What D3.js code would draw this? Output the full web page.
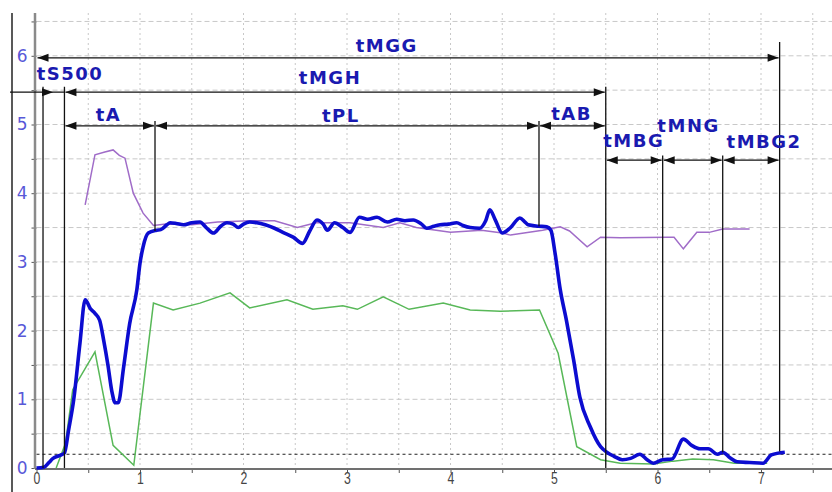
<!DOCTYPE html>
<html>
<head>
<meta charset="utf-8">
<script src="https://cdn.jsdelivr.net/npm/d3@7"></script>
<style>
  body { margin: 0; background: #fff; }
  svg { display: block; }
</style>
</head>
<body>
<script>
// series: time (x) / value (y) pairs
var blueX = [0, 0.07, 0.12, 0.16, 0.22, 0.27, 0.31, 0.36, 0.42, 0.47, 0.52, 0.565, 0.61, 0.65, 0.69, 0.73, 0.76, 0.79, 0.84, 0.9, 0.97, 1.0, 1.03, 1.08, 1.16, 1.2, 1.26, 1.29, 1.35, 1.42, 1.5, 1.58, 1.64, 1.71, 1.78, 1.84, 1.9, 1.95, 2.0, 2.06, 2.13, 2.21, 2.3, 2.38, 2.48, 2.57, 2.64, 2.71, 2.77, 2.81, 2.88, 2.96, 3.03, 3.12, 3.2, 3.29, 3.39, 3.48, 3.56, 3.64, 3.72, 3.77, 3.84, 3.9, 3.98, 4.06, 4.12, 4.19, 4.28, 4.34, 4.38, 4.43, 4.5, 4.58, 4.67, 4.72, 4.75, 4.85, 4.93, 4.97, 5.01, 5.06, 5.12, 5.19, 5.25, 5.35, 5.45, 5.51, 5.58, 5.66, 5.74, 5.83, 5.9, 5.96, 6.05, 6.14, 6.25, 6.33, 6.41, 6.49, 6.58, 6.63, 6.7, 6.77, 6.89, 7.02, 7.1, 7.23];
var blueY = [0, 0.01, 0.08, 0.14, 0.18, 0.22, 0.55, 1.0, 1.82, 2.45, 2.32, 2.25, 2.15, 1.85, 1.5, 1.1, 0.95, 0.95, 1.45, 2.1, 2.6, 2.98, 3.22, 3.42, 3.46, 3.47, 3.54, 3.57, 3.56, 3.54, 3.57, 3.58, 3.5, 3.42, 3.52, 3.57, 3.55, 3.5, 3.55, 3.58, 3.57, 3.54, 3.49, 3.43, 3.36, 3.27, 3.45, 3.61, 3.55, 3.46, 3.57, 3.5, 3.43, 3.65, 3.62, 3.65, 3.58, 3.62, 3.6, 3.61, 3.55, 3.49, 3.52, 3.54, 3.55, 3.57, 3.53, 3.5, 3.49, 3.6, 3.76, 3.62, 3.42, 3.5, 3.64, 3.58, 3.54, 3.52, 3.51, 3.46, 3.13, 2.6, 2.15, 1.57, 1.03, 0.6, 0.31, 0.23, 0.17, 0.12, 0.14, 0.2, 0.12, 0.07, 0.12, 0.13, 0.42, 0.33, 0.28, 0.28, 0.2, 0.23, 0.15, 0.09, 0.08, 0.07, 0.19, 0.23];

var purpleX = [0.47, 0.565, 0.66, 0.74, 0.8, 0.855, 0.935, 1.03, 1.13, 1.25, 1.5, 1.75, 2.06, 2.3, 2.52, 2.7, 3.03, 3.35, 3.51, 3.67, 4.0, 4.3, 4.5, 4.58, 4.89, 5.06, 5.15, 5.32, 5.45, 5.64, 6.1, 6.16, 6.25, 6.38, 6.5, 6.63, 6.89];
var purpleY = [3.83, 4.56, 4.6, 4.63, 4.55, 4.51, 4.0, 3.71, 3.53, 3.55, 3.54, 3.58, 3.6, 3.6, 3.5, 3.57, 3.57, 3.5, 3.57, 3.5, 3.43, 3.46, 3.42, 3.39, 3.46, 3.51, 3.45, 3.22, 3.36, 3.35, 3.36, 3.36, 3.19, 3.43, 3.43, 3.48, 3.48];

var greenX = [0.19, 0.28, 0.35, 0.565, 0.74, 0.94, 1.13, 1.32, 1.58, 1.87, 2.06, 2.42, 2.67, 2.96, 3.1, 3.35, 3.6, 3.93, 4.19, 4.48, 4.86, 5.04, 5.22, 5.45, 5.64, 5.96, 6.15, 6.34, 6.54, 6.74, 7.06];
var greenY = [0.0, 0.36, 1.14, 1.69, 0.33, 0.04, 2.4, 2.3, 2.4, 2.55, 2.33, 2.45, 2.31, 2.36, 2.31, 2.49, 2.31, 2.4, 2.3, 2.28, 2.3, 1.67, 0.31, 0.12, 0.07, 0.06, 0.1, 0.13, 0.12, 0.07, 0.07];

var threshold = 0.2;

// timing intervals
var intervalNames = ["tMGG", "tS500", "tMGH", "tA", "tPL", "tAB", "tMBG", "tMNG", "tMBG2"];
var intervalStart = [0, 0.063, 0.27, 0.27, 1.145, 4.855, 5.5, 6.05, 6.63];
var intervalEnd   = [7.18, 0.27, 5.5, 1.145, 4.855, 5.5, 6.05, 6.63, 7.18];

// marker lines: x position and value they drop to
var markerX    = [0.063, 0.27, 1.145, 4.855, 5.5, 6.05, 6.63, 7.18];
var markerDrop = [0, 0, 3.45, 3.52, 0, 0.15, 0.23, 0.24];

var xTicks = [0, 1, 2, 3, 4, 5, 6, 7];
var yTicks = [0, 1, 2, 3, 4, 5, 6];

var width = 832, height = 492;

var svg = d3.select("body").append("svg")
    .attr("width", width)
    .attr("height", height);

var x = d3.scaleLinear().domain([0, 8]).range([36.5, 36.5 + 8 * 103.5]);
var y = d3.scaleLinear().domain([0, 6]).range([468, 468 - 6 * 68.7]);

var plotTop = 13;
var halfX = d3.range(0.5, 8, 0.5);
var halfY = d3.range(0.5, 6.6, 0.5);

// layout of each interval: arrow row, label position
var arrowRow = [5.97, 5.47, 5.47, 4.98, 4.98, 4.98, 4.48, 4.48, 4.48];
var labelAt = [[3.384, 6.06], [0.324, 5.65], [2.836, 5.59], [0.696, 5.05], [2.94, 5.04],
               [5.17, 5.065], [5.77, 4.67], [6.3, 4.89], [7.03, 4.66]];
var markerTop = [5.55, 5.55, 5.05, 5.05, 5.55, 4.55, 4.55, 6.2];

// grid
svg.append("g").selectAll("line")
    .data(halfY)
    .enter().append("line")
    .attr("x1", x(0)).attr("x2", width)
    .attr("y1", function (d) { return y(d); })
    .attr("y2", function (d) { return y(d); })
    .attr("stroke", "#c8c8c8")
    .attr("stroke-dasharray", "5,3");

svg.append("g").selectAll("line")
    .data(halfX)
    .enter().append("line")
    .attr("x1", function (d) { return x(d); })
    .attr("x2", function (d) { return x(d); })
    .attr("y1", plotTop).attr("y2", y(0))
    .attr("stroke", "#c8c8c8")
    .attr("stroke-dasharray", "2,3");

// threshold
svg.append("line")
    .attr("x1", x(0)).attr("x2", width)
    .attr("y1", y(threshold)).attr("y2", y(threshold))
    .attr("stroke", "#222")
    .attr("stroke-dasharray", "3,3");

// axes
var yAxis = d3.axisLeft(y)
    .tickValues(d3.range(0, 6.6, 0.5))
    .tickSize(5)
    .tickPadding(4)
    .tickFormat(function (d) { return yTicks.indexOf(d) >= 0 ? d : ""; });

var gy = svg.append("g")
    .attr("transform", "translate(" + x(0) + ",0)")
    .call(yAxis);
gy.select(".domain").remove();
gy.selectAll(".tick line").attr("stroke", "#555");
gy.selectAll("text")
    .attr("fill", "#5858d8")
    .style("font-family", "'DejaVu Sans', sans-serif")
    .style("font-size", "17px");

var xAxis = d3.axisBottom(x)
    .tickValues(halfX.concat([0]))
    .tickSize(4)
    .tickFormat(function (d) { return xTicks.indexOf(d) >= 0 ? d : ""; });

var gx = svg.append("g")
    .attr("transform", "translate(0," + (y(0) + 1) + ")")
    .call(xAxis);
gx.select(".domain").remove();
gx.selectAll(".tick line").attr("stroke", "#555");
gx.selectAll("text")
    .attr("y", 3)
    .attr("fill", "#444")
    .attr("transform", "scale(0.72,1)")
    .style("font-family", "'Liberation Sans', sans-serif")
    .style("font-size", "17px");

svg.append("line")
    .attr("x1", x(0) - 1.5).attr("x2", x(0) - 1.5)
    .attr("y1", plotTop).attr("y2", y(0) + 1)
    .attr("stroke", "#8a8a8a").attr("stroke-width", 2.5);
svg.append("line")
    .attr("x1", x(0) - 1.5).attr("x2", width)
    .attr("y1", y(0) + 1).attr("y2", y(0) + 1)
    .attr("stroke", "#707070").attr("stroke-width", 2);
svg.append("line")
    .attr("x1", 12).attr("x2", 12)
    .attr("y1", plotTop).attr("y2", height)
    .attr("stroke", "#222").attr("stroke-width", 1.5);

// series
function pairs(xs, ys) {
    return xs.map(function (d, i) { return [d, ys[i]]; });
}

var line = d3.line()
    .x(function (d) { return x(d[0]); })
    .y(function (d) { return y(d[1]); });

svg.append("path")
    .datum(pairs(greenX, greenY))
    .attr("fill", "none")
    .attr("stroke", "#58b858")
    .attr("stroke-width", 1.5)
    .attr("d", line);

svg.append("path")
    .datum(pairs(purpleX, purpleY))
    .attr("fill", "none")
    .attr("stroke", "#a06cc8")
    .attr("stroke-width", 1.5)
    .attr("d", line);

svg.append("path")
    .datum(pairs(blueX, blueY))
    .attr("fill", "none")
    .attr("stroke", "#0c0cd0")
    .attr("stroke-width", 3.6)
    .attr("stroke-linejoin", "round")
    .attr("d", line.curve(d3.curveMonotoneX));

// marker lines
svg.append("g").selectAll("line")
    .data(markerX)
    .enter().append("line")
    .attr("x1", function (d) { return x(d); })
    .attr("x2", function (d) { return x(d); })
    .attr("y1", function (d, i) { return y(markerTop[i]); })
    .attr("y2", function (d, i) { return y(markerDrop[i]); })
    .attr("stroke", "#111")
    .attr("stroke-width", 1.3);

// arrows
function head(px, py, dir) {
    // dir 1 = pointing right, -1 = pointing left
    var len = 11, hw = 4;
    return "M" + px + "," + py + "L" + (px - dir * len) + "," + (py - hw) +
        "L" + (px - dir * len) + "," + (py + hw) + "Z";
}

var ga = svg.append("g");
intervalNames.forEach(function (name, i) {
    var x0 = x(intervalStart[i]), x1 = x(intervalEnd[i]), ry = y(arrowRow[i]);
    if (name === "tS500") {
        // short span: leader comes in from the left
        ga.append("line")
            .attr("x1", 10).attr("x2", x1)
            .attr("y1", ry).attr("y2", ry)
            .attr("stroke", "#111").attr("stroke-width", 1.3);
        ga.append("path").attr("d", head(x0 + 10, ry, 1)).attr("fill", "#111");
    } else {
        ga.append("line")
            .attr("x1", x0 + 1).attr("x2", x1 - 1)
            .attr("y1", ry).attr("y2", ry)
            .attr("stroke", "#111").attr("stroke-width", 1.3);
        ga.append("path").attr("d", head(x0 + 1, ry, -1)).attr("fill", "#111");
        ga.append("path").attr("d", head(x1 - 1, ry, 1)).attr("fill", "#111");
    }
    ga.append("text")
        .attr("x", x(labelAt[i][0]))
        .attr("y", y(labelAt[i][1]))
        .attr("text-anchor", "middle")
        .attr("fill", "#1a1ab0")
        .style("font-family", "'DejaVu Sans', sans-serif")
        .style("font-weight", "bold")
        .style("font-size", "18px")
        .style("letter-spacing", "1.5px")
        .text(name);
});
</script>
</body>
</html>
